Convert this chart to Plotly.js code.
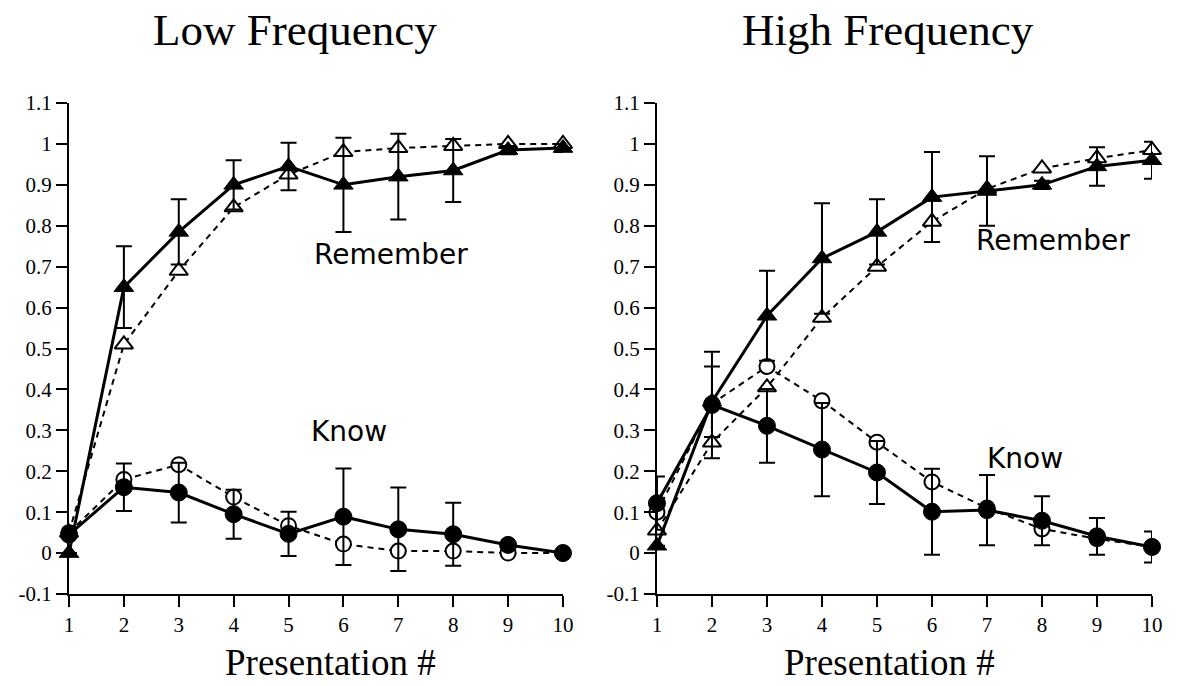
<!DOCTYPE html>
<html>
<head>
<meta charset="utf-8">
<script src="https://cdn.plot.ly/plotly-3.0.1.min.js"></script>
<style>html,body{margin:0;padding:0;background:#fff;}#chart{width:1181px;height:686px;}</style>
</head>
<body>
<div id="chart"></div>
<script>
// ---- data ----
const presentation = [1, 2, 3, 4, 5, 6, 7, 8, 9, 10];
const yTickVals = [-0.1, 0, 0.1, 0.2, 0.3, 0.4, 0.5, 0.6, 0.7, 0.8, 0.9, 1, 1.1];
const yTickText = ["-0.1", "0", "0.1", "0.2", "0.3", "0.4", "0.5", "0.6", "0.7", "0.8", "0.9", "1", "1.1"];
const panelTitles = ["Low Frequency", "High Frequency"];
const xAxisTitle = "Presentation #";

// Low frequency
const lowRememberFilled = [0.0, 0.65, 0.785, 0.90, 0.945, 0.90, 0.92, 0.935, 0.985, 0.99];
const lowRememberFilledErr = [0, 0.10, 0.08, 0.06, 0.058, 0.115, 0.105, 0.077, 0.01, 0.01];
const lowRememberOpen = [0.05, 0.51, 0.69, 0.845, 0.925, 0.98, 0.99, 0.995, 1.0, 1.0];
const lowKnowFilled = [0.045, 0.161, 0.148, 0.095, 0.047, 0.089, 0.058, 0.046, 0.02, 0.0];
const lowKnowFilledErr = [0, 0.058, 0.073, 0.06, 0.054, 0.118, 0.102, 0.077, 0, 0];
const lowKnowOpen = [0.05, 0.18, 0.216, 0.137, 0.067, 0.022, 0.005, 0.005, 0.0, 0.0];

// High frequency
const highRememberFilled = [0.018, 0.37, 0.58, 0.72, 0.785, 0.87, 0.885, 0.90, 0.945, 0.96];
const highRememberFilledErr = [0, 0.086, 0.11, 0.135, 0.08, 0.11, 0.085, 0.01, 0.047, 0.045];
const highRememberOpen = [0.055, 0.27, 0.405, 0.575, 0.70, 0.81, 0.89, 0.94, 0.965, 0.985];
const highKnowFilled = [0.122, 0.362, 0.311, 0.253, 0.197, 0.101, 0.105, 0.079, 0.041, 0.015];
const highKnowFilledErr = [0.065, 0.13, 0.09, 0.114, 0.077, 0.105, 0.086, 0.06, 0.045, 0.038];
const highKnowOpen = [0.10, 0.365, 0.456, 0.372, 0.271, 0.174, 0.11, 0.059, 0.035, 0.015];

// ---- traces ----
function openTrace(y, symbol, xa, ya, name) {
  return {
    x: presentation, y: y, xaxis: xa, yaxis: ya, name: name,
    type: 'scatter', mode: 'lines+markers', cliponaxis: false,
    line: {color: '#000', width: 2, dash: '6px,5px'},
    marker: {symbol: symbol, size: symbol === 'circle' ? 15 : 16, color: '#fff', line: {color: '#000', width: 2}}
  };
}
function filledTrace(y, err, symbol, xa, ya, name) {
  return {
    x: presentation, y: y, xaxis: xa, yaxis: ya, name: name,
    type: 'scatter', mode: 'lines+markers', cliponaxis: false,
    line: {color: '#000', width: 3},
    marker: {symbol: symbol, size: 17, color: '#000', line: {color: '#000', width: 1}},
    error_y: {type: 'data', array: err, visible: true, color: '#000', thickness: 2, width: 8}
  };
}

const traces = [
  openTrace(lowRememberOpen, 'triangle-up', 'x', 'y', 'Remember (open), low'),
  openTrace(lowKnowOpen, 'circle', 'x', 'y', 'Know (open), low'),
  filledTrace(lowRememberFilled, lowRememberFilledErr, 'triangle-up', 'x', 'y', 'Remember (filled), low'),
  filledTrace(lowKnowFilled, lowKnowFilledErr, 'circle', 'x', 'y', 'Know (filled), low'),
  openTrace(highRememberOpen, 'triangle-up', 'x2', 'y2', 'Remember (open), high'),
  openTrace(highKnowOpen, 'circle', 'x2', 'y2', 'Know (open), high'),
  filledTrace(highRememberFilled, highRememberFilledErr, 'triangle-up', 'x2', 'y2', 'Remember (filled), high'),
  filledTrace(highKnowFilled, highKnowFilledErr, 'circle', 'x2', 'y2', 'Know (filled), high')
];

const serif = 'Liberation Serif, Times New Roman, serif';
const sans = 'DejaVu Sans, Verdana, sans-serif';

function xAxis(domain, anchor) {
  return {
    domain: domain, anchor: anchor, range: [1, 10], tickvals: presentation,
    showline: true, linecolor: '#000', linewidth: 2, ticks: 'outside', ticklen: 11, tickwidth: 2, tickcolor: '#000',
    showgrid: false, zeroline: false, tickfont: {family: serif, size: 21, color: '#000'}
  };
}
function yAxis(anchor) {
  return {
    anchor: anchor, range: [-0.1, 1.1], tickvals: yTickVals, ticktext: yTickText,
    showline: true, linecolor: '#000', linewidth: 2, ticks: 'outside', ticklen: 11, tickwidth: 2, tickcolor: '#000',
    showgrid: false, zeroline: false, tickfont: {family: serif, size: 21, color: '#000'}
  };
}

function label(text, xref, yref, x, y, family, size) {
  return {text: text, xref: xref, yref: yref, x: x, y: y, xanchor: 'center', yanchor: 'middle', showarrow: false, font: {family: family, size: size, color: '#000'}};
}

const layout = {
  width: 1181, height: 686,
  margin: {l: 69, r: 29, t: 103, b: 92},
  paper_bgcolor: '#fff', plot_bgcolor: '#fff',
  showlegend: false,
  xaxis: xAxis([0, 0.4561], 'y'),
  yaxis: yAxis('x'),
  xaxis2: xAxis([0.5429, 1], 'y2'),
  yaxis2: yAxis('x2'),
  annotations: [
    label(panelTitles[0], 'paper', 'paper', 0.2087, 1.1487, serif, 45),
    label(panelTitles[1], 'paper', 'paper', 0.7562, 1.1487, serif, 45),
    label(xAxisTitle, 'paper', 'paper', 0.241, -0.1405, serif, 37),
    label(xAxisTitle, 'paper', 'paper', 0.758, -0.1405, serif, 37),
    label('Remember', 'x', 'y', 6.87, 0.73, sans, 28),
    label('Know', 'x', 'y', 6.11, 0.296, sans, 28),
    label('Remember', 'x2', 'y2', 8.2, 0.763, sans, 28),
    label('Know', 'x2', 'y2', 7.69, 0.232, sans, 28)
  ]
};

Plotly.newPlot('chart', traces, layout, {staticPlot: true, displayModeBar: false});
</script>
</body>
</html>
